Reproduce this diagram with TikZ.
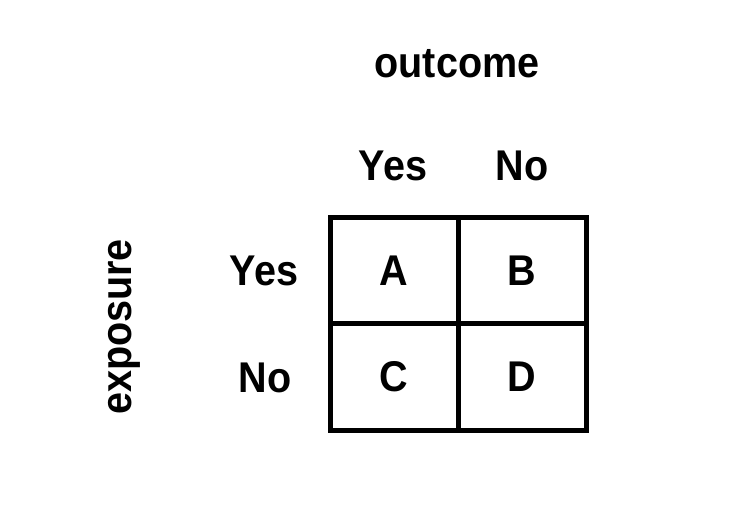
\documentclass[tikz,border=0pt]{standalone}
\usepackage{fontspec}
\setmainfont[FakeStretch=0.92]{Liberation Sans}
\usepackage{xcolor}
\usepackage{tikz}
\usetikzlibrary{positioning}

\tikzset{
  lbl/.style={font=\bfseries\fontsize{43}{48}\selectfont, inner sep=0pt, anchor=base},
  cell/.style={draw, line width=5pt, minimum width=128pt, minimum height=106pt,
    inner sep=0pt, font=\bfseries\fontsize{43}{48}\selectfont}
}

\begin{document}
\begin{tikzpicture}[x=1pt, y=-1pt]
      \useasboundingbox (0,0) rectangle (744,526);
      \begin{scope}
        % cells of the 2x2 table
        \node[cell] (cellA) at (394,271) {A};
        \node[cell] (cellB) at (522,271) {B};
        \node[cell] (cellC) at (394,377) {C};
        \node[cell] (cellD) at (522,377) {D};
        % headings
        \node[lbl] (outcome) at (457,78) {outcome};
        \node[lbl] (colYes) at (393,181) {Yes};
        \node[lbl] (colNo) at (522,181) {No};
        \node[lbl] (rowYes) at (264,286) {Yes};
        \node[lbl] (rowNo) at (265,392) {No};
        \node[lbl, rotate=90] (exposure) at (131,327) {exposure};
      \end{scope}
    \end{tikzpicture}
\end{document}
